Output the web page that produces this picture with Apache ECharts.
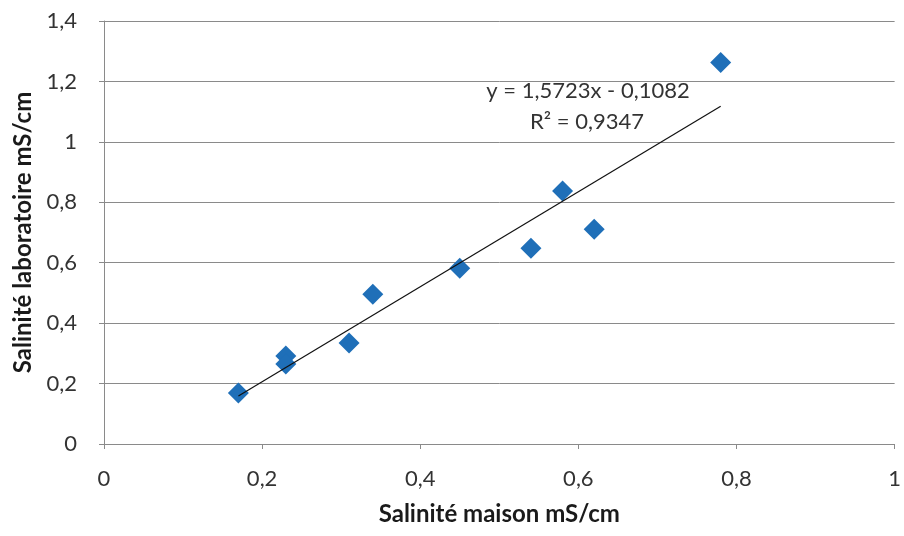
<!DOCTYPE html>
<html>
<head>
<meta charset="utf-8">
<script src="https://cdn.jsdelivr.net/npm/echarts@6/dist/echarts.min.js"></script>
<style>
  html, body { margin: 0; padding: 0; background: #fff; }
  #chart { width: 904px; height: 536px; }
</style>
</head>
<body>
<div id="chart"></div>
<script>
// Salinité : mesure maison vs mesure laboratoire (mS/cm)
const salMaison = [0.17, 0.23, 0.23, 0.31, 0.34, 0.45, 0.54, 0.58, 0.62, 0.78];
const salLabo   = [0.169, 0.291, 0.265, 0.334, 0.496, 0.582, 0.648, 0.837, 0.711, 1.263];

// Régression linéaire affichée sur le graphique
const slope = 1.5723;
const intercept = -0.1082;
const r2Text = '0,9347';
const trendX = [Math.min(...salMaison), Math.max(...salMaison)];

const xTicks = [0, 0.2, 0.4, 0.6, 0.8, 1];
const yTicks = [0, 0.2, 0.4, 0.6, 0.8, 1, 1.2, 1.4];

const fmt = v => String(Math.round(v * 10) / 10).replace('.', ',');
const FONT = 'Lato, "Open Sans", sans-serif';
const GRID_COLOR = '#8a8a8a';

const chart = echarts.init(document.getElementById('chart'), null, { renderer: 'canvas' });

const option = {
  animation: false,
  grid: { left: 104, right: 8, top: 21, bottom: 92, containLabel: false },
  xAxis: {
    type: 'value',
    min: xTicks[0], max: xTicks[xTicks.length - 1], interval: 0.2,
    name: 'Salinité maison mS/cm',
    nameLocation: 'middle', nameGap: 58,
    nameTextStyle: { fontFamily: FONT, fontSize: 24, fontWeight: 'bold', color: '#1a1a1a' },
    axisLine: { show: true, lineStyle: { color: GRID_COLOR, width: 1 } },
    axisTick: { show: true, inside: false, length: 5, lineStyle: { color: GRID_COLOR } },
    axisLabel: { formatter: fmt, fontFamily: FONT, fontSize: 22, color: '#333', margin: 24 },
    splitLine: { show: false }
  },
  yAxis: {
    type: 'value',
    min: yTicks[0], max: yTicks[yTicks.length - 1], interval: 0.2,
    name: 'Salinité laboratoire mS/cm',
    nameLocation: 'middle', nameGap: 68,
    nameTextStyle: { fontFamily: FONT, fontSize: 24, fontWeight: 'bold', color: '#1a1a1a' },
    axisLine: { show: true, lineStyle: { color: GRID_COLOR, width: 1 } },
    axisTick: { show: true, inside: false, length: 5, lineStyle: { color: GRID_COLOR } },
    axisLabel: { formatter: fmt, fontFamily: FONT, fontSize: 22, color: '#333', margin: 27 },
    splitLine: { show: true, lineStyle: { color: GRID_COLOR, width: 1 } }
  },
  series: [
    {
      name: 'Mesures',
      type: 'scatter',
      symbol: 'diamond',
      symbolSize: [21, 21],
      itemStyle: { color: '#1f6fb8', opacity: 1 },
      data: salMaison.map((x, i) => [x, salLabo[i]]),
      z: 3
    },
    {
      name: 'Tendance',
      type: 'line',
      showSymbol: false,
      symbol: 'none',
      lineStyle: { color: '#111', width: 1.2 },
      data: trendX.map(x => [x, slope * x + intercept]),
      z: 4
    }
  ],
  graphic: [
    {
      type: 'text',
      x: 588, y: 91,
      style: {
        text: 'y = ' + String(slope).replace('.', ',') + 'x - ' + String(-intercept).replace('.', ','),
        font: '22px ' + FONT, fill: '#333', align: 'center', verticalAlign: 'middle'
      }
    },
    {
      type: 'text',
      x: 587, y: 122,
      style: {
        text: 'R² = ' + r2Text,
        font: '22px ' + FONT, fill: '#333', align: 'center', verticalAlign: 'middle'
      }
    }
  ]
};

chart.setOption(option);
</script>
</body>
</html>
